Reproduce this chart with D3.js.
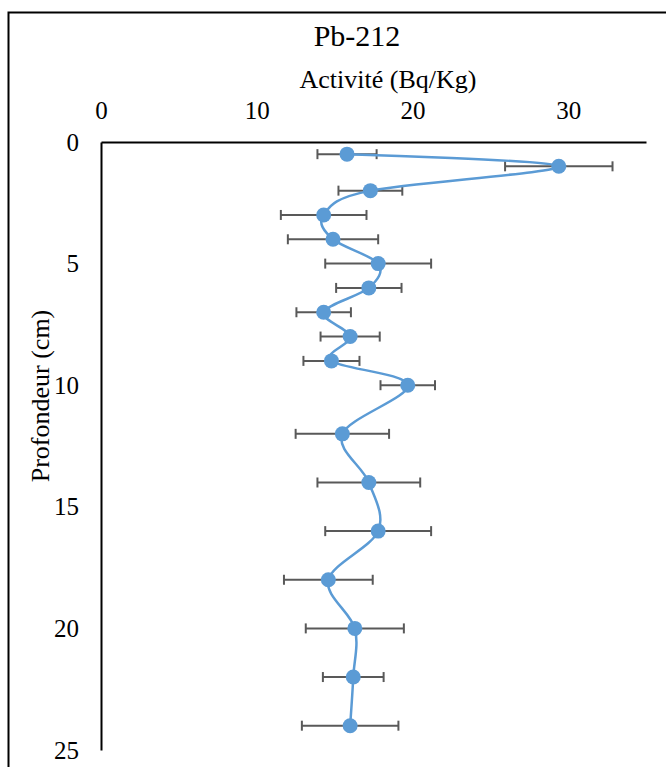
<!DOCTYPE html>
<html>
<head>
<meta charset="utf-8">
<script src="https://cdn.jsdelivr.net/npm/d3@7"></script>
<style>
  html, body { margin: 0; padding: 0; background: #fff; }
  svg { display: block; }
  text { font-family: "Liberation Serif", "DejaVu Serif", serif; fill: #000; }
</style>
</head>
<body>
<script>
// ---- Data ----
const depths = [0.5, 1, 2, 3, 4, 5, 6, 7, 8, 9, 10, 12, 14, 16, 18, 20, 22, 24];
const activity = [15.8, 29.4, 17.3, 14.3, 14.9, 17.8, 17.2, 14.3, 16.0, 14.8, 19.7, 15.5, 17.2, 17.8, 14.6, 16.3, 16.2, 16.0];
const errors = [1.9, 3.45, 2.05, 2.75, 2.9, 3.4, 2.1, 1.75, 1.9, 1.8, 1.75, 3.0, 3.3, 3.4, 2.85, 3.15, 1.95, 3.1];
const xTicks = [0, 10, 20, 30];
const yTicks = [0, 5, 10, 15, 20, 25];
const title = "Pb-212";
const xTitle = "Activité (Bq/Kg)";
const yTitle = "Profondeur (cm)";

const FONT = '"Liberation Serif", "DejaVu Serif", serif';
const W = 666, H = 767;
const svg = d3.select("body").append("svg").attr("width", W).attr("height", H);

// chart border
svg.append("rect").attr("x", 8.5).attr("y", 12.5).attr("width", 700).attr("height", 800)
  .attr("fill", "#fff").attr("stroke", "#000").attr("stroke-width", 2);

const x = d3.scaleLinear().domain([0, 35]).range([101, 646]);
const y = d3.scaleLinear().domain([0, 25]).range([142, 750]);

// axes
const xAxis = d3.axisTop(x).tickValues(xTicks).tickSize(0).tickPadding(0);
const gx = svg.append("g").attr("transform", `translate(0,${y(0)})`).call(xAxis)
  .attr("font-family", FONT);
gx.select(".domain").attr("stroke", "#000").attr("stroke-width", 2);
gx.selectAll("text").attr("font-size", 25).attr("y", -23).attr("font-family", FONT);

const yAxis = d3.axisLeft(y).tickValues(yTicks).tickSize(0).tickPadding(0);
const gy = svg.append("g").attr("transform", `translate(${x(0)},0)`).call(yAxis)
  .attr("font-family", FONT);
gy.select(".domain").attr("stroke", "#000").attr("stroke-width", 2);
gy.selectAll("text").attr("font-size", 25).attr("x", -22).attr("font-family", FONT);

// titles
svg.append("text").attr("x", 357).attr("y", 46).attr("text-anchor", "middle")
  .attr("font-family", FONT).attr("font-size", 30).text(title);
svg.append("text").attr("x", 388).attr("y", 88).attr("text-anchor", "middle")
  .attr("font-family", FONT).attr("font-size", 26).text(xTitle);
svg.append("text").attr("transform", "translate(49,396) rotate(-90)")
  .attr("font-family", FONT).attr("text-anchor", "middle").attr("font-size", 26).text(yTitle);

const data = depths.map((d, i) => ({ d, v: activity[i], e: errors[i] }));

// error bars
const eb = svg.append("g").attr("stroke", "#595959").attr("stroke-width", 2);
data.forEach(p => {
  const yy = y(p.d);
  eb.append("line").attr("x1", x(p.v - p.e)).attr("x2", x(p.v + p.e)).attr("y1", yy).attr("y2", yy);
  eb.append("line").attr("x1", x(p.v - p.e)).attr("x2", x(p.v - p.e)).attr("y1", yy - 5).attr("y2", yy + 5);
  eb.append("line").attr("x1", x(p.v + p.e)).attr("x2", x(p.v + p.e)).attr("y1", yy - 5).attr("y2", yy + 5);
});

// smoothed line
const line = d3.line().x(p => x(p.v)).y(p => y(p.d)).curve(d3.curveCardinal.tension(0));
svg.append("path").datum(data).attr("d", line).attr("fill", "none")
  .attr("stroke", "#5B9BD5").attr("stroke-width", 2.5);

// markers
svg.append("g").selectAll("circle").data(data).join("circle")
  .attr("cx", p => x(p.v)).attr("cy", p => y(p.d)).attr("r", 7.5)
  .attr("fill", "#5B9BD5");
</script>
</body>
</html>
